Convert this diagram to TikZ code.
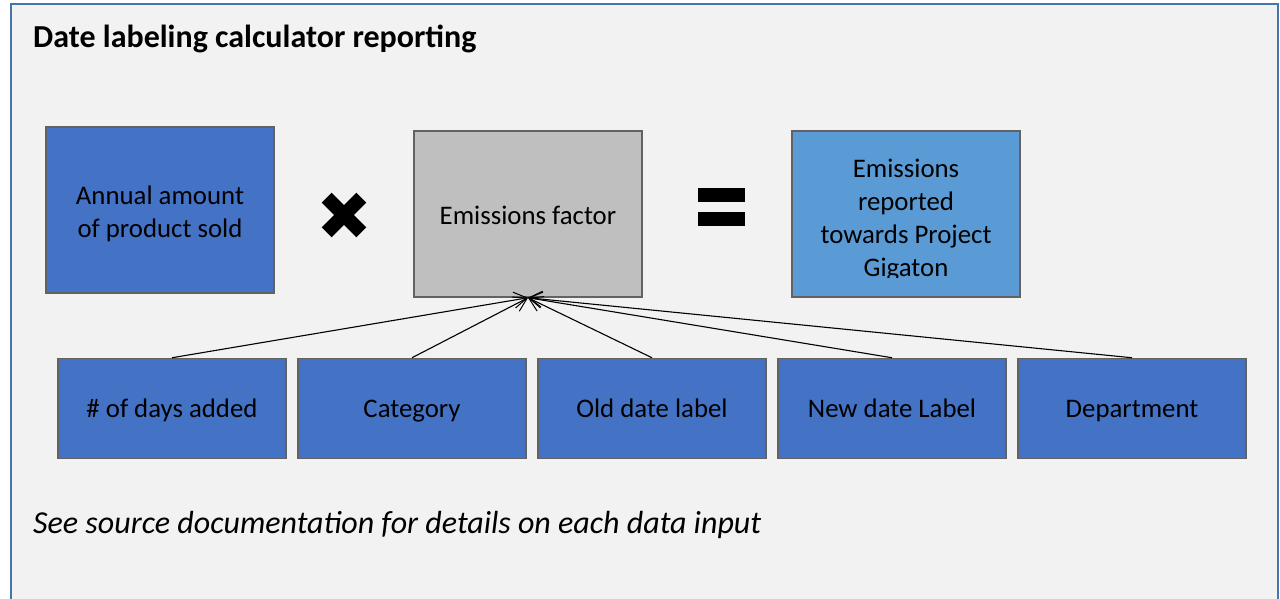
\documentclass[tikz,border=0pt]{standalone}
\usepackage{fontspec}
\setmainfont{Carlito}
\usetikzlibrary{arrows.meta}
\definecolor{bgc}{HTML}{F2F2F2}
\definecolor{framec}{HTML}{4676A8}
\definecolor{darkblue}{HTML}{4472C4}
\definecolor{lightblue}{HTML}{5B9BD5}
\definecolor{greyc}{HTML}{BFBFBF}
\definecolor{edgec}{HTML}{626262}
\tikzset{
  boxfont/.style={font=\fontsize{26.8}{33}\selectfont},
  box/.style={draw=edgec, line width=1.5pt, rectangle, minimum width=228pt, inner sep=0pt, align=center, boxfont,
    text height=20pt, text depth=3pt},
  bigbox/.style={box, minimum height=166pt},
  smallbox/.style={box, fill=darkblue, minimum height=100pt},
  multitext/.style={align=center, boxfont, inner sep=0pt},
  conn/.style={line width=1.1pt, -{Straight Barb[length=13pt,width=16pt,line width=1pt]}},
  bar/.style={fill=black, inner sep=0pt, minimum width=47pt, minimum height=14pt},
  xbar/.style={fill=black, inner sep=0pt, minimum width=49pt, minimum height=14pt},
}
\begin{document}
\begin{tikzpicture}[x=1pt,y=-1pt]
\useasboundingbox (0,0) rectangle (1280,599);
\fill[white] (0,0) rectangle (1280,599);
\fill[bgc] (11,4) rectangle (1278,599);
\draw[framec, line width=2.5pt] (11,599) -- (11,4) -- (1278,4) -- (1278,599);

\node[anchor=base west, inner sep=0pt, font=\fontsize{32}{38}\selectfont\bfseries] (title) at (33,48) {Date labeling calculator reporting};

\node[bigbox, fill=darkblue] (annual) at (160,210) {};
\node[multitext] (annualtext) at (160,214) {Annual amount\\of product sold};
\node[bigbox, fill=greyc, text height=23pt] (ef) at (528,214) {Emissions factor};
\node[bigbox, fill=lightblue] (er) at (906,214) {};
\begin{scope}
  \clip (792,131) rectangle (1020,277);
  \node[multitext] (ertext) at (906,220) {Emissions\\reported\\towards Project\\Gigaton};
\end{scope}

\node[xbar, rotate=45] (times1) at (344,215) {};
\node[xbar, rotate=-45] (times2) at (344,215) {};
\node[bar] (eq1) at (721.5,195) {};
\node[bar] (eq2) at (721.5,218.5) {};

\node[smallbox] (b1) at (172,408.5) {\# of days added};
\node[smallbox] (b2) at (412,408.5) {Category};
\node[smallbox] (b3) at (652,408.5) {Old date label};
\node[smallbox] (b4) at (892,408.5) {New date Label};
\node[smallbox] (b5) at (1132,408.5) {Department};

\foreach \b in {b1,b2,b3,b4,b5} {
  \draw[conn] (\b.north) -- (ef.south);
}

\node[anchor=base west, inner sep=0pt, font=\fontsize{32}{38}\selectfont\itshape] (foot) at (33,533) {See source documentation for details on each data input};
\end{tikzpicture}
\end{document}
